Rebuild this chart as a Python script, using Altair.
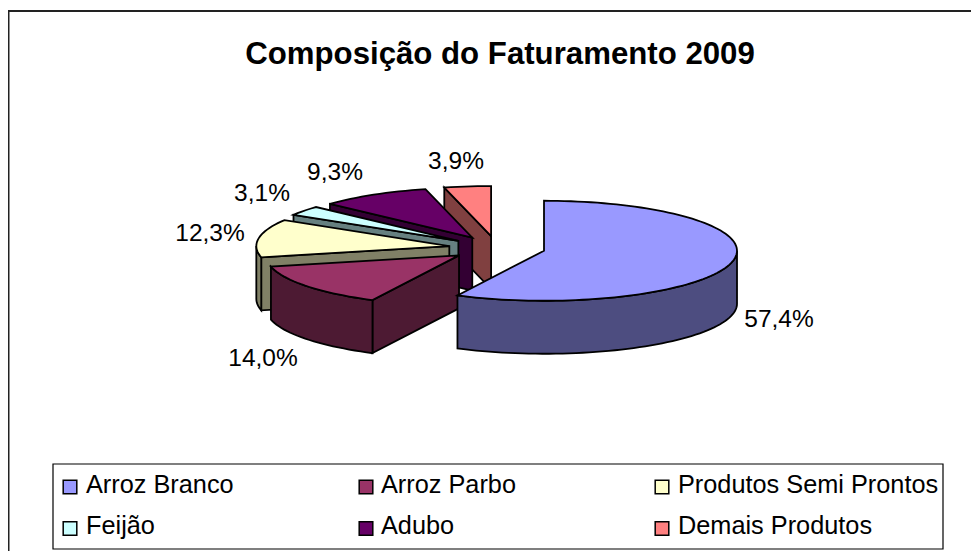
import math
import altair as alt

# ---- data ----
categories = ["Arroz Branco", "Arroz Parbo", "Produtos Semi Prontos", "Feijão", "Adubo", "Demais Produtos"]
shares = [57.4, 14.0, 12.3, 3.1, 9.3, 3.9]
top_colors = ["#9999FF", "#993366", "#FFFFCC", "#CCFFFF", "#660066", "#FF8080"]
side_colors = ["#4D4D80", "#4D1A33", "#808066", "#668080", "#330033", "#804040"]
title_text = "Composição do Faturamento 2009"

# ---- layout (page pixels, the view starts at 8,8) ----
M = 8
PIE_CX, PIE_CY = 497, 248
RX, RY, DEPTH = 193, 50, 53
EXPLODE_X, EXPLODE_Y = 48.3, 12
LABEL_POS = [(779, 320), (263, 359), (210, 234), (262, 194), (335, 173), (456, 162)]
LEG_BOX = (53, 464, 943, 549)
LEG_SWATCH_X = [70, 366, 662]
LEG_TEXT_X = [86, 381, 678]
LEG_ROW_Y = [487, 528.5]
LEG_TEXT_Y = [485, 526]


def pt(cx, cy, deg, dz=0):
    a = math.radians(deg)
    return [round(cx + RX * math.sin(a) - M, 2), round(cy - RY * math.cos(a) + dz - M, 2)]


def feature(ring, fill):
    ring = ring + [ring[0]]
    return {"type": "Feature", "properties": {"fill": fill},
            "geometry": {"type": "Polygon", "coordinates": [ring]}}


slices = []
start = 0.0
for share, top, side in zip(shares, top_colors, side_colors):
    end = start + share * 3.6
    mid = math.radians((start + end) / 2)
    cx = PIE_CX + EXPLODE_X * math.sin(mid)
    cy = PIE_CY - EXPLODE_Y * math.cos(mid)
    apex = [round(cx - M, 2), round(cy - M, 2)]
    apex_low = [apex[0], apex[1] + DEPTH]
    n = max(4, int((end - start) / 2))
    arc = [start + (end - start) * i / n for i in range(n + 1)]
    walls = []
    if math.sin(math.radians(start)) < -1e-6:
        walls.append(feature([apex, pt(cx, cy, start), pt(cx, cy, start, DEPTH), apex_low], side))
    if math.sin(math.radians(end)) > 1e-6:
        walls.append(feature([apex, pt(cx, cy, end), pt(cx, cy, end, DEPTH), apex_low], side))
    lo, hi = max(start, 90), min(end, 270)
    if hi > lo:
        m = max(2, int((hi - lo) / 2))
        vis = [lo + (hi - lo) * i / m for i in range(m + 1)]
        walls.append(feature([pt(cx, cy, d) for d in vis] + [pt(cx, cy, d, DEPTH) for d in reversed(vis)], side))
    slices.append(walls + [feature([apex] + [pt(cx, cy, d) for d in arc], top)])
    start = end

features = [f for s in reversed(slices) for f in s]

pie = alt.Chart(alt.Data(values=features)).mark_geoshape(
    stroke="black", strokeWidth=1.8, strokeJoin="miter"
).encode(
    fill=alt.Fill("properties.fill:N", scale=None, legend=None)
).project(type="identity", scale=1, translate=[0, 0])

X = alt.X("x:Q", scale=None, axis=None)
Y = alt.Y("y:Q", scale=None, axis=None)

frame = alt.Chart(alt.Data(values=[
    {"x": 0, "y": 3, "x2": 963, "y2": 3},
    {"x": 0.5, "y": 3, "x2": 0.5, "y2": 543},
])).mark_rule(color="#222222", strokeWidth=2).encode(
    x=X, y=Y, x2="x2:Q", y2="y2:Q"
)

title = alt.Chart(alt.Data(values=[{"x": 500 - M, "y": 55 - M, "t": title_text}])).mark_text(
    font="Liberation Sans", fontSize=31.2, fontWeight="bold", color="black", align="center", baseline="middle"
).encode(x=X, y=Y, text="t:N")

labels = alt.Chart(alt.Data(values=[
    {"x": p[0] - M, "y": p[1] - M, "t": f"{s:.1f}%".replace(".", ",")}
    for p, s in zip(LABEL_POS, shares)
])).mark_text(
    font="Liberation Sans", fontSize=24.5, color="black", align="center", baseline="middle"
).encode(x=X, y=Y, text="t:N")

legend_box = alt.Chart(alt.Data(values=[
    {"x": LEG_BOX[0] - M, "y": LEG_BOX[1] - M, "x2": LEG_BOX[2] - M, "y2": LEG_BOX[3] - M}
])).mark_rect(fill="white", stroke="black", strokeWidth=1.2).encode(x=X, y=Y, x2="x2:Q", y2="y2:Q")

swatch_rows = []
text_rows = []
for i, (name, color) in enumerate(zip(categories, top_colors)):
    col, row = i % 3, i // 3
    swatch_rows.append({"x": LEG_SWATCH_X[col] - M, "y": LEG_ROW_Y[row] - M, "c": color})
    text_rows.append({"x": LEG_TEXT_X[col] - M, "y": LEG_TEXT_Y[row] - M, "t": name})

swatches = alt.Chart(alt.Data(values=swatch_rows)).mark_square(
    size=185, stroke="black", strokeWidth=1.5, opacity=1
).encode(x=X, y=Y, fill=alt.Fill("c:N", scale=None, legend=None))

legend_text = alt.Chart(alt.Data(values=text_rows)).mark_text(
    font="Liberation Sans", fontSize=25.3, color="black", align="left", baseline="middle"
).encode(x=X, y=Y, text="t:N")

chart = alt.layer(frame, title, pie, labels, legend_box, swatches, legend_text).properties(
    width=963, height=543, padding=0, autosize=alt.AutoSizeParams(type="none"),
    background="white"
).configure_view(stroke=None)

chart.save("out.html", embed_options={"renderer": "svg", "actions": False})
